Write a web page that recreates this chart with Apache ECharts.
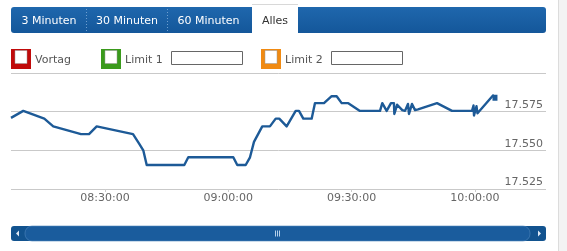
<!DOCTYPE html>
<html>
<head>
<meta charset="utf-8">
<script src="https://cdn.jsdelivr.net/npm/echarts@6/dist/echarts.min.js"></script>
<style>
html,body{margin:0;padding:0;background:#fff;}
#chart{width:567px;height:251px;}
</style>
</head>
<body>
<div id="chart"></div>
<script>
// ---- data ----
var times = ['08:07:08','08:10:07','08:15:14','08:17:25','08:24:10','08:26:07','08:27:59','08:36:49','08:38:16','08:39:19',
  '08:40:09','08:49:18','08:50:16','09:01:13','09:02:11','09:04:14','09:05:17','09:06:15','09:08:16','09:10:08',
  '09:11:32','09:12:24','09:14:12','09:16:24','09:17:12','09:18:15','09:20:17','09:21:05','09:23:17','09:25:09',
  '09:26:22','09:27:35','09:29:12','09:32:02','09:36:55','09:37:28','09:38:32','09:39:35','09:40:18','09:40:24',
  '09:41:05','09:42:20','09:43:00','09:43:43','09:43:58','09:44:42','09:45:26','09:46:10','09:50:47','09:54:26',
  '09:59:18','09:59:40','09:59:47','10:00:23','10:00:38','10:04:24','10:04:53'];
var prices = [17.5710,17.5755,17.5705,17.5655,17.5605,17.5605,17.5655,17.5605,17.5545,17.5500,
  17.5405,17.5405,17.5455,17.5455,17.5405,17.5405,17.5455,17.5555,17.5655,17.5655,
  17.5705,17.5705,17.5655,17.5755,17.5755,17.5705,17.5705,17.5805,17.5805,17.5850,
  17.5850,17.5805,17.5805,17.5755,17.5755,17.5805,17.5755,17.5805,17.5805,17.5735,
  17.5795,17.5760,17.5755,17.5800,17.5735,17.5800,17.5760,17.5765,17.5805,17.5755,
  17.5755,17.5790,17.5725,17.5785,17.5740,17.5855,17.5840];
var xStart = '08:07:08';
var xEnd = '10:17:18';
var xTickLabels = ['08:30:00','09:00:00','09:30:00','10:00:00'];
var yTickValues = [17.525, 17.550, 17.575, 17.600];
var tabLabels = ['3 Minuten','30 Minuten','60 Minuten','Alles'];
var legendLabels = ['Vortag','Limit 1','Limit 2'];

function toSec(s){var p=s.split(':');return (+p[0])*3600+(+p[1])*60+(+p[2]);}
function fmt(sec){
  var h=Math.floor(sec/3600),m=Math.floor((sec%3600)/60),s=Math.round(sec%60);
  function z(n){return (n<10?'0':'')+n;}
  return z(h)+':'+z(m)+':'+z(s);
}
var seriesData = times.map(function(t,i){
  var item = {value:[toSec(t), prices[i]]};
  if (i === times.length-1) { item.symbol = 'rect'; item.symbolSize = [5,6]; }
  return item;
});
var tickSecs = xTickLabels.map(toSec);

var FONT = 'DejaVu Sans';
var chart = echarts.init(document.getElementById('chart'), null, {renderer:'canvas'});

var tabBlue = new echarts.graphic.LinearGradient(0,0,0,1,[{offset:0,color:'#1f67ad'},{offset:1,color:'#14579a'}]);
var graphics = [
  {type:'rect', shape:{x:558,y:0,width:9,height:251}, style:{fill:'#f3f3f3'}, silent:true},
  {type:'line', shape:{x1:558.5,y1:0,x2:558.5,y2:251}, style:{stroke:'#dcdcdc',lineWidth:1}, silent:true},
  {type:'rect', shape:{x:11,y:7,width:241,height:26,r:[3,0,0,3]}, style:{fill:tabBlue}},
  {type:'rect', shape:{x:298,y:7,width:248,height:26,r:[0,3,3,0]}, style:{fill:tabBlue}},
  {type:'rect', shape:{x:252,y:4,width:46,height:29}, style:{fill:'#ffffff'}},
  {type:'line', shape:{x1:252,y1:4.5,x2:298,y2:4.5}, style:{stroke:'#d8d8d8',lineWidth:1}},
  {type:'line', shape:{x1:86.5,y1:9,x2:86.5,y2:31}, style:{stroke:'#6f9fd0',lineWidth:1,lineDash:[1,2]}},
  {type:'line', shape:{x1:167.5,y1:9,x2:167.5,y2:31}, style:{stroke:'#6f9fd0',lineWidth:1,lineDash:[1,2]}},
  {type:'text', x:49, y:21, style:{text:tabLabels[0], fill:'#ffffff', font:'11px "DejaVu Sans"', align:'center', verticalAlign:'middle'}},
  {type:'text', x:127, y:21, style:{text:tabLabels[1], fill:'#ffffff', font:'11px "DejaVu Sans"', align:'center', verticalAlign:'middle'}},
  {type:'text', x:208.5, y:21, style:{text:tabLabels[2], fill:'#ffffff', font:'11px "DejaVu Sans"', align:'center', verticalAlign:'middle'}},
  {type:'text', x:275, y:21, style:{text:tabLabels[3], fill:'#333333', font:'11px "DejaVu Sans"', align:'center', verticalAlign:'middle'}},
  {type:'rect', shape:{x:11,y:49,width:20,height:20}, style:{fill:'#c00a0a'}},
  {type:'rect', shape:{x:15,y:50.5,width:12,height:13}, style:{fill:'#ffffff',stroke:'#999',lineWidth:0.5}},
  {type:'text', x:35, y:60, style:{text:legendLabels[0], fill:'#555555', font:'11px "DejaVu Sans"', verticalAlign:'middle'}},
  {type:'rect', shape:{x:101,y:49,width:20,height:20}, style:{fill:'#3a9a1c'}},
  {type:'rect', shape:{x:105,y:50.5,width:12,height:13}, style:{fill:'#ffffff',stroke:'#999',lineWidth:0.5}},
  {type:'text', x:125, y:60, style:{text:legendLabels[1], fill:'#555555', font:'11px "DejaVu Sans"', verticalAlign:'middle'}},
  {type:'rect', shape:{x:171.5,y:51.5,width:71,height:13}, style:{fill:'#ffffff',stroke:'#666',lineWidth:1}},
  {type:'rect', shape:{x:261,y:49,width:20,height:20}, style:{fill:'#f08a12'}},
  {type:'rect', shape:{x:265,y:50.5,width:12,height:13}, style:{fill:'#ffffff',stroke:'#999',lineWidth:0.5}},
  {type:'text', x:285, y:60, style:{text:legendLabels[2], fill:'#555555', font:'11px "DejaVu Sans"', verticalAlign:'middle'}},
  {type:'rect', shape:{x:331.5,y:51.5,width:71,height:13}, style:{fill:'#ffffff',stroke:'#666',lineWidth:1}},
  {type:'rect', shape:{x:11,y:226,width:535,height:15,r:3}, style:{fill:'#12538f'}},
  {type:'rect', shape:{x:25,y:226,width:505,height:15,r:7}, style:{fill:'#1a5c9d',stroke:'#4f86bd',lineWidth:0.6}},
  {type:'polygon', shape:{points:[[16,233.5],[19,230.5],[19,236.5]]}, style:{fill:'#dfe9f5'}},
  {type:'polygon', shape:{points:[[541,233.5],[538,230.5],[538,236.5]]}, style:{fill:'#dfe9f5'}},
  {type:'line', shape:{x1:275.5,y1:230.5,x2:275.5,y2:236.5}, style:{stroke:'#b6d0ea',lineWidth:1}},
  {type:'line', shape:{x1:277.5,y1:230.5,x2:277.5,y2:236.5}, style:{stroke:'#b6d0ea',lineWidth:1}},
  {type:'line', shape:{x1:279.5,y1:230.5,x2:279.5,y2:236.5}, style:{stroke:'#b6d0ea',lineWidth:1}}
];

var option = {
  animation:false,
  backgroundColor:'#ffffff',
  textStyle:{fontFamily:FONT},
  grid:{left:11,right:21,top:73,bottom:62,containLabel:false},
  xAxis:{
    type:'value', min:toSec(xStart), max:toSec(xEnd),
    axisLine:{show:false},
    splitLine:{show:false},
    axisTick:{show:true, customValues:tickSecs, length:3, lineStyle:{color:'#cccccc'}},
    axisLabel:{customValues:tickSecs, formatter:function(v){return fmt(v);}, color:'#666666', fontFamily:FONT, fontSize:11, margin:4}
  },
  yAxis:{
    type:'value', position:'right', min:yTickValues[0], max:yTickValues[yTickValues.length-1], interval:0.025,
    axisLine:{show:false}, axisTick:{show:false},
    splitLine:{show:true, lineStyle:{color:'#c9c9c9',width:1}},
    axisLabel:{inside:true, verticalAlign:'bottom', showMaxLabel:false, margin:3,
      formatter:function(v){return Math.abs(v-17.6)<1e-6?'':v.toFixed(3);},
      color:'#666666', fontFamily:FONT, fontSize:11, padding:[0,0,1,0]}
  },
  series:[{
    type:'line', data:seriesData, symbol:'none', showSymbol:true,
    lineStyle:{color:'#1d5a97', width:2.4, join:'round'}, itemStyle:{color:'#1d5a97'},
    z:3
  }],
  graphic:graphics
};
chart.setOption(option);
</script>
</body>
</html>
